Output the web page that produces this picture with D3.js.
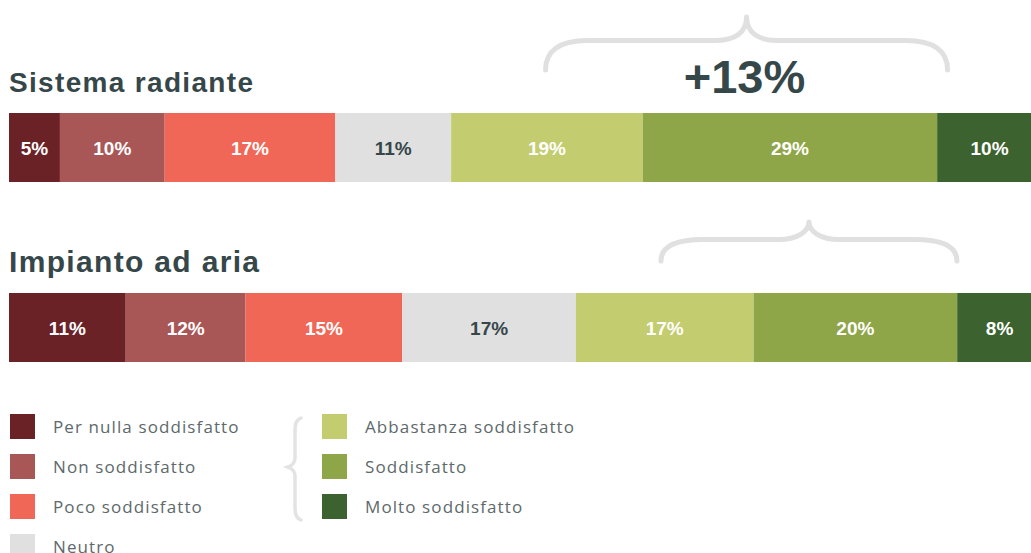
<!DOCTYPE html>
<html>
<head>
<meta charset="utf-8">
<script src="https://cdn.jsdelivr.net/npm/d3@7"></script>
<style>
  body { margin: 0; background: #fff; overflow: hidden; }
  svg { display: block; }
</style>
</head>
<body>
<script>
// data
var categories = ["Per nulla soddisfatto", "Non soddisfatto", "Poco soddisfatto", "Neutro",
                  "Abbastanza soddisfatto", "Soddisfatto", "Molto soddisfatto"];
var systems = ["Sistema radiante", "Impianto ad aria"];
var radiante = [4.93, 10.14, 16.52, 11.21, 18.55, 28.5, 10.15];
var aria = [11.3, 11.6, 15.17, 16.81, 17.2, 19.71, 8.21];
var difference = "+13%";
var colors = ["#6b2226", "#a95756", "#f16757", "#e0e0e0", "#c3cc6f", "#8fa648", "#3b622f"];

var chart = (function() {
    var w = 1031, h = 553;
    var dark = "#36474a";

    var svg = d3.select("body")
                .append("svg")
                .attr("width", w)
                .attr("height", h);

    var xScale = d3.scaleLinear()
                   .domain([0, 100])
                   .range([9, 1042]);

    var color = d3.scaleOrdinal()
                  .domain(categories)
                  .range(colors);

    var rows = [
        {name: systems[0], values: radiante, y: 113, titleSize: 28, titleW: 244, braceTop: 17, braceMid: 40.5, braceEnd: 70, half: 201},
        {name: systems[1], values: aria, y: 293, titleSize: 30, titleW: 250, braceTop: 222, braceMid: 239.5, braceEnd: 261, half: 148}
    ];
    var barH = 69;

    rows.forEach(function(row) {
        var cum = 0;
        var segs = row.values.map(function(v, i) {
            var s = {key: categories[i], start: cum, value: v};
            cum += v;
            return s;
        });

        var g = svg.append("g");

        g.append("text")
         .attr("x", 9)
         .attr("y", row.y - 21)
         .attr("font-family", "'Liberation Sans', Arial, sans-serif")
         .attr("font-weight", 700)
         .attr("font-size", row.titleSize)
         .attr("textLength", row.titleW)
         .attr("lengthAdjust", "spacing")
         .attr("fill", dark)
         .text(row.name);

        g.selectAll("rect")
         .data(segs)
         .enter()
         .append("rect")
         .attr("x", d => xScale(d.start))
         .attr("y", row.y)
         .attr("width", d => xScale(d.start + d.value) - xScale(d.start))
         .attr("height", barH)
         .attr("fill", d => color(d.key));

        g.selectAll("text.lbl")
         .data(segs)
         .enter()
         .append("text")
         .attr("class", "lbl")
         .attr("x", d => (xScale(d.start) + xScale(d.start + d.value)) / 2)
         .attr("y", row.y + barH / 2 + 7)
         .attr("text-anchor", "middle")
         .attr("font-family", "'Liberation Sans', Arial, sans-serif")
         .attr("font-weight", 700)
         .attr("font-size", 19)
         .attr("fill", d => d.key == "Neutro" ? dark : "#fff")
         .text(d => Math.round(d.value) + "%");

        // brace over the satisfied part
        var cx = (xScale(segs[4].start) + xScale(100)) / 2;
        var l = cx - row.half, r = cx + row.half;
        var t = row.braceTop, m = row.braceMid, e = row.braceEnd;
        var p = d3.path();
        p.moveTo(l, e);
        p.bezierCurveTo(l, m + (e - m) * 0.35, l + 14, m, l + 42, m);
        p.lineTo(cx - 30, m);
        p.bezierCurveTo(cx - 12, m, cx, m - 8, cx, t);
        p.bezierCurveTo(cx, m - 8, cx + 12, m, cx + 30, m);
        p.lineTo(r - 42, m);
        p.bezierCurveTo(r - 14, m, r, m + (e - m) * 0.35, r, e);

        svg.append("path")
           .attr("d", p.toString())
           .attr("fill", "none")
           .attr("stroke", "#e0e0e0")
           .attr("stroke-width", 5)
           .attr("stroke-linecap", "round")
           .attr("stroke-linejoin", "round");

        row.cx = cx;
    });

    svg.append("text")
       .attr("x", rows[0].cx - 2)
       .attr("y", 93)
       .attr("text-anchor", "middle")
       .attr("font-family", "'Liberation Sans', Arial, sans-serif")
       .attr("font-weight", 700)
       .attr("font-size", 47)
       .attr("fill", dark)
       .text(difference);

    // legend
    var legend = svg.append("g");
    var items = legend.selectAll("g")
                      .data(categories)
                      .enter()
                      .append("g")
                      .attr("transform", function(d, i) {
                          var col = i < 4 ? 0 : 1;
                          var r = i < 4 ? i : i - 4;
                          return "translate(" + (col ? 322 : 10) + "," + (414 + r * 40) + ")";
                      });

    items.append("rect")
         .attr("width", 25)
         .attr("height", 25)
         .attr("fill", d => color(d));

    items.append("text")
         .attr("x", 43)
         .attr("y", 19)
         .attr("font-family", "'Open Sans', sans-serif")
         .attr("font-weight", 400)
         .attr("font-size", 17)
         .attr("letter-spacing", 1.1)
         .attr("fill", "#5d696b")
         .text(d => d);

    var b = d3.path();
    b.moveTo(301, 418);
    b.bezierCurveTo(296, 420, 295, 424, 295, 432);
    b.lineTo(295, 458);
    b.bezierCurveTo(295, 463, 291, 466, 288, 467);
    b.bezierCurveTo(291, 468, 295, 471, 295, 476);
    b.lineTo(295, 506);
    b.bezierCurveTo(295, 514, 296, 518, 301, 520);

    legend.append("path")
          .attr("d", b.toString())
          .attr("fill", "none")
          .attr("stroke", "#e3e3e3")
          .attr("stroke-width", 3.5)
          .attr("stroke-linecap", "round");
})();
</script>
</body>
</html>
